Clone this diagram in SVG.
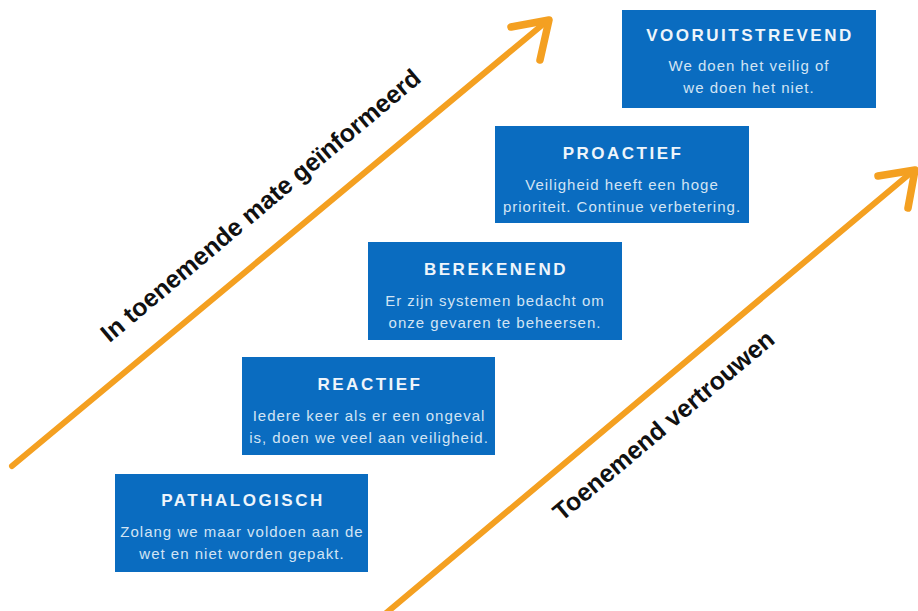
<svg xmlns="http://www.w3.org/2000/svg" width="918" height="611" viewBox="0 0 918 611">
<style>
.box{fill:#0a6cc0}
.t{font-family:"Liberation Sans",Arial,sans-serif;font-size:17px;font-weight:bold;fill:#eef5fb;text-anchor:middle;letter-spacing:2.5px}
.b{font-family:"Liberation Sans",Arial,sans-serif;font-size:15px;fill:#d2e4f4;text-anchor:middle;letter-spacing:1px}
.arr{stroke:#f4a021;stroke-width:6;fill:none;stroke-linecap:round;stroke-linejoin:round}
.head{stroke:#f4a021;stroke-width:7.5;fill:none;stroke-linecap:round;stroke-linejoin:round}
.lab{font-family:"Liberation Sans",Arial,sans-serif;font-size:25px;font-weight:bold;fill:#111;text-anchor:middle}
</style>
<rect width="918" height="611" fill="#fff"/>
<g id="connectors">
<path class="arr" d="M12,466 L547,21"/>
<path class="head" d="M511,27 L549,20 L540,60"/>
<path class="arr" d="M385,614 L913,171"/>
<path class="head" d="M878,176 L915,170 L908,208"/>
</g>
<g id="label-informed"><text class="lab" transform="translate(266,212) rotate(-40)">In toenemende mate geïnformeerd</text></g>
<g id="label-trust"><text class="lab" transform="translate(669,432) rotate(-40)">Toenemend vertrouwen</text></g>
<g id="pathalogisch">
<rect class="box" x="115" y="474" width="253" height="98"/>
<text class="t" x="243" y="506">PATHALOGISCH</text>
<text class="b" x="242" y="537">Zolang we maar voldoen aan de</text>
<text class="b" x="242" y="559">wet en niet worden gepakt.</text>
</g>
<g id="reactief">
<rect class="box" x="242" y="357" width="253" height="98"/>
<text class="t" x="370" y="390">REACTIEF</text>
<text class="b" x="369" y="421">Iedere keer als er een ongeval</text>
<text class="b" x="369" y="443">is, doen we veel aan veiligheid.</text>
</g>
<g id="berekenend">
<rect class="box" x="368" y="242" width="254" height="98"/>
<text class="t" x="496" y="275">BEREKENEND</text>
<text class="b" x="495" y="306">Er zijn systemen bedacht om</text>
<text class="b" x="495" y="328">onze gevaren te beheersen.</text>
</g>
<g id="proactief">
<rect class="box" x="495" y="126" width="254" height="97"/>
<text class="t" x="623" y="159">PROACTIEF</text>
<text class="b" x="622" y="190">Veiligheid heeft een hoge</text>
<text class="b" x="622" y="212">prioriteit. Continue verbetering.</text>
</g>
<g id="vooruitstrevend">
<rect class="box" x="622" y="10" width="254" height="98"/>
<text class="t" x="750" y="41">VOORUITSTREVEND</text>
<text class="b" x="749" y="71">We doen het veilig of</text>
<text class="b" x="749" y="93">we doen het niet.</text>
</g>
</svg>
